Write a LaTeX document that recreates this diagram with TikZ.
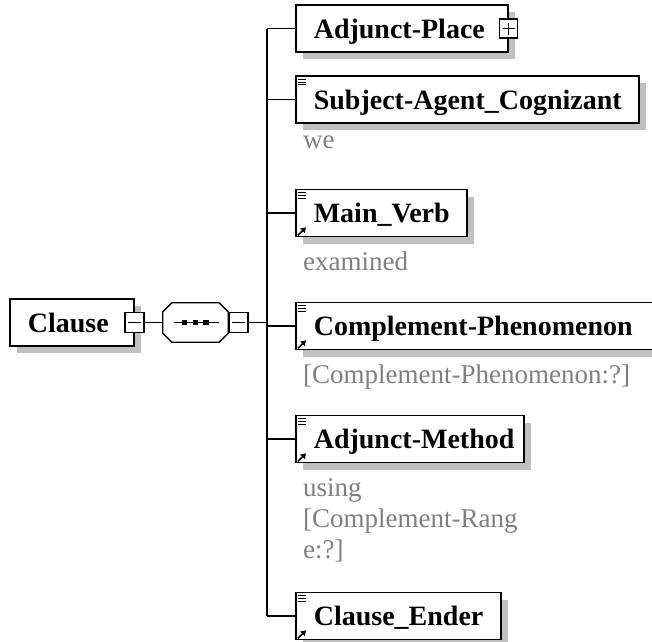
\documentclass[tikz,border=0pt]{standalone}
\usepackage{fontspec}
\setmainfont{Liberation Serif}
\usetikzlibrary{shadows,calc,arrows.meta}
\definecolor{shadowgray}{RGB}{192,192,192}
\definecolor{txtgray}{RGB}{128,128,128}
\newcommand{\padtext}[2]{\makebox[#1][l]{\hspace{18pt}#2}}
\begin{document}
\begin{tikzpicture}[x=1pt,y=-1pt,
  elbox/.style={draw=black, line width=1.6pt, fill=white, minimum height=47pt,
    inner sep=0pt, text height=20pt, text depth=1pt, anchor=west,
    font=\fontsize{28}{30}\selectfont\bfseries,
    drop shadow={shadow xshift=7pt, shadow yshift=-7pt, fill=shadowgray, opacity=1}},
  expbox/.style={draw=black, line width=1.3pt, fill=white, minimum width=19pt,
    minimum height=20pt, inner sep=0pt},
  expline/.style={line width=1.3pt},
  conn/.style={draw=black, line width=1.3pt},
  gtxt/.style={text=txtgray, inner sep=0pt, anchor=base west,
    font=\fontsize{27}{31}\selectfont},
  iconline/.style={line width=1pt},
  refarr/.style={line width=1.6pt, -{Triangle[length=5pt,width=6pt]}}
]
\clip (0,0) rectangle (652,641);
\fill[white] (0,0) rectangle (652,641);

% root element
\node[elbox] (cl) at (9,322.5) {\padtext{124pt}{Clause}};
\node[expbox] (clx) at (cl.east) {};
\draw[expline] ($(clx.center)+(-6.5,0)$) -- ($(clx.center)+(6.5,0)$);

% sequence compositor (octagon)
\node[minimum width=65pt, minimum height=39pt, inner sep=0pt] (seq) at (195.5,322.5) {};
\fill[shadowgray, shift={(6,6)}]
  ($(seq.north west)+(0,9)$) -- ($(seq.north west)+(9,0)$) --
  ($(seq.north east)+(-9,0)$) -- ($(seq.north east)+(0,9)$) --
  ($(seq.south east)+(0,-9)$) -- ($(seq.south east)+(-9,0)$) --
  ($(seq.south west)+(9,0)$) -- ($(seq.south west)+(0,-9)$) -- cycle;
\draw[line width=1.3pt, fill=white]
  ($(seq.north west)+(0,9)$) -- ($(seq.north west)+(9,0)$) --
  ($(seq.north east)+(-9,0)$) -- ($(seq.north east)+(0,9)$) --
  ($(seq.south east)+(0,-9)$) -- ($(seq.south east)+(-9,0)$) --
  ($(seq.south west)+(9,0)$) -- ($(seq.south west)+(0,-9)$) -- cycle;
\draw[line width=1.2pt] ($(seq.center)+(-22,0)$) -- ($(seq.center)+(23,0)$);
\foreach \dx in {-11,0,10.5}
  \fill ($(seq.center)+(\dx-2.8,-2.5)$) rectangle ++(5.6,5);
\node[expbox, anchor=west] (seqx) at (seq.east) {};
\draw[expline] ($(seqx.center)+(-6.5,0)$) -- ($(seqx.center)+(6.5,0)$);

\draw[conn] (clx.east) -- (seq.west);
\coordinate (jM) at (267,322.5);
\draw[conn] (seqx.east) -- (jM);

% junction points
\coordinate (jA) at (267,28.5);
\coordinate (jB) at (267,99.5);
\coordinate (jC) at (267,213);
\coordinate (jD) at (267,326);
\coordinate (jE) at (267,439);
\coordinate (jF) at (267,616);
\draw[conn] (jA) -- (jF);

% children
\node[elbox] (ap) at (295,28.5) {\padtext{212pt}{Adjunct-Place}};
\node[elbox] (sa) at (295,99.5) {\padtext{343pt}{Subject-Agent\_Cognizant}};
\node[elbox] (mv) at (295,213) {\padtext{171pt}{Main\_Verb}};
\node[elbox] (cp) at (295,326) {\padtext{370pt}{Complement-Phenomenon}};
\node[elbox] (am) at (295,439) {\padtext{228pt}{Adjunct-Method}};
\node[elbox] (ce) at (295,616) {\padtext{205pt}{Clause\_Ender}};

\draw[conn] (jA) -- (ap.west);
\draw[conn] (jB) -- (sa.west);
\draw[conn] (jC) -- (mv.west);
\draw[conn] (jD) -- (cp.west);
\draw[conn] (jE) -- (am.west);
\draw[conn] (jF) -- (ce.west);

% expander on Adjunct-Place
\node[expbox, minimum width=18pt, minimum height=19pt] (apx) at (ap.east) {};
\draw[expline] ($(apx.center)+(-6,0)$) -- ($(apx.center)+(6,0)$);
\draw[expline] ($(apx.center)+(0,-6)$) -- ($(apx.center)+(0,6)$);

% documentation icons
\foreach \n in {sa,mv,cp,am,ce}{
  \draw[iconline] ($(\n.north west)+(3,4)$) -- ++(8,0);
  \draw[iconline] ($(\n.north west)+(3,6.8)$) -- ++(8,0);
  \draw[iconline] ($(\n.north west)+(3,9.6)$) -- ++(8,0);
}
% reference arrows
\foreach \n in {mv,cp,am,ce}{
  \draw[refarr] ($(\n.south west)+(3,-2)$) -- ++(8,-8);
}

% sample values
\node[gtxt] (vwe) at (303,148) {we};
\node[gtxt] (vmv) at (303,270) {examined};
\node[gtxt] (vcp) at (303,383) {[Complement-Phenomenon:?]};
\node[gtxt] (vam1) at (303,496) {using};
\node[gtxt] (vam2) at (303,527) {[Complement-Rang};
\node[gtxt] (vam3) at (303,558) {e:?]};
\end{tikzpicture}
\end{document}
